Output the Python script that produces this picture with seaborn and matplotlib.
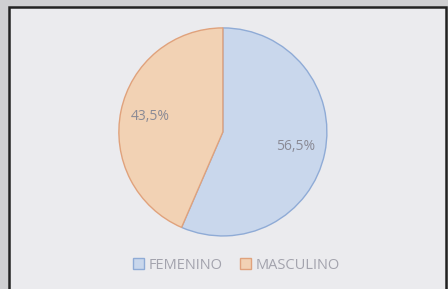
import numpy as np
import seaborn as sns
import matplotlib.pyplot as plt
from matplotlib.patches import Rectangle

# datos del grafico
sexo = ["FEMENINO", "MASCULINO"]
porcentaje = [56.5, 43.5]

sns.set_style("white")
plt.rcParams['font.family'] = ['Open Sans', 'DejaVu Sans']

relleno = ["#c9d7ec", "#f2d2b4"]
borde = ["#8fabd6", "#e0a27c"]

fig = plt.figure(figsize=(4.48, 2.89), dpi=100)
fig.patch.set_facecolor("#cfcfd1")

# marco del grafico
marco = Rectangle((0.02, -0.01), 0.975, 0.985, transform=fig.transFigure,
                  facecolor="#ebebee", edgecolor="#222222", linewidth=1.8, zorder=-10)
fig.patches.append(marco)

ax = fig.add_axes([0.263, 0.18, 0.469, 0.727])
ax.set_facecolor("none")

cunas, textos = ax.pie(porcentaje, colors=relleno, startangle=90, counterclock=False,
                       wedgeprops={'linewidth': 1.0})
for c, b in zip(cunas, borde):
    c.set_edgecolor(b)

for c, p in zip(cunas, porcentaje):
    ang = np.deg2rad((c.theta1 + c.theta2) / 2)
    etiqueta = f"{p:.1f}%".replace(".", ",")
    ax.text(0.71 * np.cos(ang), 0.71 * np.sin(ang), etiqueta, ha='center', va='center',
            fontsize=10, color="#8a8a95")
ax.set_xlim(-1.01, 1.01)
ax.set_ylim(-1.01, 1.01)
ax.set_aspect('equal')

ley = fig.legend(cunas, sexo, loc='center', bbox_to_anchor=(0.528, 0.083), ncol=2,
                 frameon=False, fontsize=10.5, handlelength=0.75, handleheight=0.75,
                 handletextpad=0.3, columnspacing=1.2)
for t in ley.get_texts():
    t.set_color("#a3a3ad")

plt.savefig("out.png", dpi=100, facecolor=fig.get_facecolor())
